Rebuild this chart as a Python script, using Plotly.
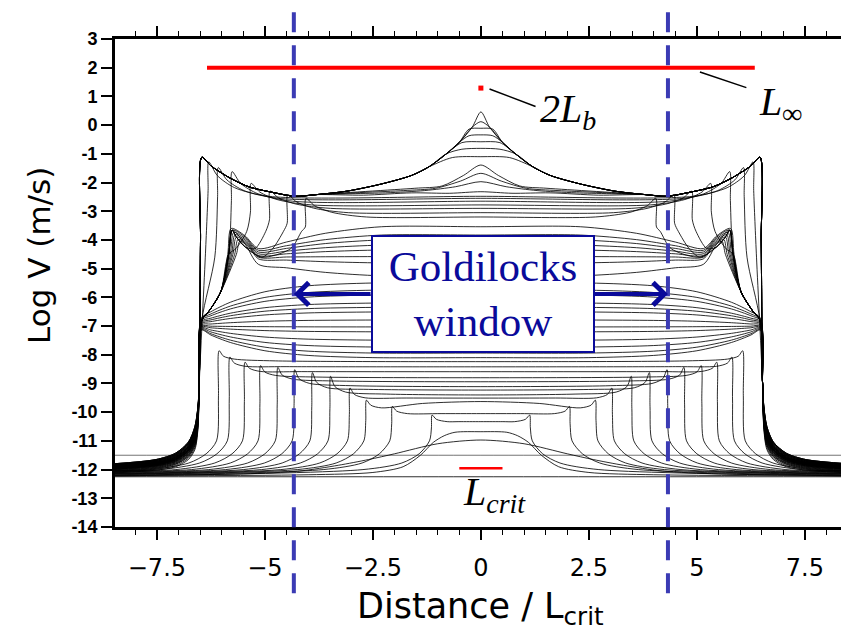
import plotly.graph_objects as go

# ---------------- axes ----------------
X_RANGE = [-8.47, 8.336]
Y_RANGE = [-14, 3]
X_TICKS = [-7.5, -5, -2.5, 0, 2.5, 5, 7.5]
X_TICKTEXT = ["\u22127.5", "\u22125", "\u22122.5", "0", "2.5", "5", "7.5"]
Y_TICKS = list(range(-14, 4))
Y_TICKTEXT = [str(v) for v in Y_TICKS]

# ---------------- length-scale markers ----------------
L_INF_HALF = 6.34
L_INF_LEVEL = 2.0
LB2_X, LB2_Y = 0.0, 1.29
LCRIT_HALF = 0.5
LCRIT_LEVEL = -11.95
WINDOW_EDGE = 4.33
WINDOW_LEVEL = -5.88

# ---------------- log slip-rate profiles (half profiles, mirrored about x=0) ----------------
# initial uniform states
INIT_FLAT = [-11.5, -12.25]
INIT_COLOR = ["rgba(0,0,0,0.55)", "rgba(0,0,0,0.82)"]

# nucleation bumps
NUC_BROAD_X = [0.0, 1.0, 2.0, 2.6, 3.3, 4.2, 5.5, 8.5]
NUC_BROAD_Y = [-10.97, -11.1, -11.45, -11.65, -11.85, -12.05, -12.15, -12.2]
NUC_HAT_X = [0.0, 0.6, 0.85, 1.1, 1.4, 1.8, 2.5, 4.0, 8.5]
NUC_HAT_Y = [-10.68, -10.7, -10.82, -11.05, -11.5, -11.9, -12.1, -12.18, -12.22]

# slowly expanding slip patch: front position, front peak, trough behind front, inner level, far level
EXP_FRONT = [1.13, 2.05, 2.65, 3.03, 3.48, 3.90, 4.31, 4.70, 5.10, 5.46, 5.81, 6.06]
EXP_PEAK = [-10.10, -9.80, -9.58, -9.16, -8.75, -8.62, -8.52, -8.44, -8.38, -8.26, -8.08, -7.86]
EXP_TROUGH = [-10.33, -10.05, -9.85, -9.50, -9.30, -9.15, -9.00, -8.85, -8.72, -8.58, -8.40, -8.15]
EXP_INNER = [-10.33, -10.05, -9.63, -9.51, -9.40, -9.23, -9.11, -8.94, -8.80, -8.59, -8.42, -8.24]
EXP_FAR = [-12.22, -12.2, -12.18, -12.16, -12.15, -12.14, -12.12, -12.1, -12.08, -12.06, -12.05, -12.03]
EXP_DROP_DX = [0.06, 0.3, 0.7, 1.6]
EXP_DROP_Y = [-11.0, -11.45, -11.77, -12.0]

# arrested patch, edges pinned near x = 6.5
PIN_INNER = [-5.5, -5.75, -5.92, -6.2, -6.35, -6.51, -6.79, -7.03, -7.2, -7.49, -7.73, -7.94, -8.1]
PIN_CORNER = [-6.72, -6.76, -6.8, -6.84, -6.88, -6.92, -6.96, -7.0, -7.03, -7.06, -7.09, -7.12, -7.14]
PIN_RAMP_X = [0.0, 2.5, 4.0, 5.0, 5.8, 6.25]
PIN_RAMP_W = [0.0, 0.0, 0.08, 0.25, 0.55, 0.82]
PIN_EDGE_X = 6.47

# ridge states: interior levels bend into a junction, then climb to a cusp near x = 5.7
RIDGE_INNER = [-3.54, -3.83, -4.0, -4.18, -4.35, -4.58, -4.8, -5.25]
RIDGE_JOIN = [-4.3, -4.36, -4.42, -4.48, -4.54, -4.6, -4.66, -4.85]
RIDGE_PEAK = [-3.6, -3.66, -3.74, -3.82, -3.9, -3.98, -4.05, -3.65]
RIDGE_CUSP_X = [5.78, 5.75, 5.72, 5.69, 5.66, 5.62, 5.58, 5.76]
RIDGE_APPROACH_X = [2.3, 3.6, 4.5]
RIDGE_APPROACH_W = [0.0, 0.3, 0.7]
RIDGE_JOIN_X = 5.15
RIDGE_OUTER_X = [6.02, 6.28, 6.46]
RIDGE_OUTER_Y = [-5.8, -6.45, -6.8]
RIDGE_PATH_X = [5.07, 5.45, 5.66, 5.76, 5.84, 6.02, 6.28, 6.46]
RIDGE_PATH_Y = [-4.6, -4.25, -3.9, -3.66, -4.5, -5.8, -6.45, -6.8]

# fast fronts running outward at high slip rate
FAST_FRONT = [4.05, 4.47, 4.88, 5.32, 5.76, 6.08, 6.30]
FAST_PEAK = [-2.55, -2.42, -2.30, -2.03, -1.62, -1.48, -1.28]
FAST_INNER = [-3.2, -3.05, -2.9, -2.78, -2.65, -2.55, -2.48]

# central cusp growing toward instability
CUSP_APEX = [0.46, 0.12, -0.11, -0.34, -0.58, -0.81, -1.1]
CUSP_ENV_X = [0.0, 0.2, 0.5, 0.8, 1.2, 1.6, 2.3, 3.1, 3.8, 4.3, 4.8, 5.37, 5.8, 6.0, 6.25, 6.46]
CUSP_ENV_Y = [0.46, -0.07, -0.6, -1.0, -1.45, -1.75, -2.05, -2.3, -2.42, -2.48, -2.35, -2.15, -1.85, -1.67, -1.42, -1.12]
# early, broader central bumps sitting on a lower shoulder
BUMP_APEX = [-1.39, -1.68, -1.97, -2.32]
BUMP_HALFWIDTH = [0.9, 1.05, 1.3, 1.6]
BUMP_BASE = [-2.2, -2.28, -2.36, -2.44]

# outer decay beyond a pinned edge: offsets and bounding levels of the bundle
TAIL_DX = [0.0, 0.03, 0.1, 0.25, 0.55, 1.0, 2.0]
TAIL_HI = [-9.0, -9.8, -10.5, -11.04, -11.43, -11.65, -11.8]
TAIL_LO = [-9.0, -10.6, -11.3, -11.65, -11.9, -12.02, -12.12]
TAIL_START = 6.52


def mirror(pts):
    xs = [p[0] for p in pts]
    ys = [p[1] for p in pts]
    return [-v for v in xs[::-1]] + xs[1:], ys[::-1] + ys[1:]


def tail(w):
    return [(TAIL_START + dx, hi + w * (lo - hi)) for dx, hi, lo in zip(TAIL_DX, TAIL_HI, TAIL_LO)]


def frac(i, n):
    return i / (n - 1) if n > 1 else 0.0


profiles = []   # (points, colour)
LINE = "rgba(0,0,0,0.82)"

for lvl, col in zip(INIT_FLAT, INIT_COLOR):
    profiles.append(([(0.0, lvl), (8.5, lvl)], col))
profiles.append((list(zip(NUC_BROAD_X, NUC_BROAD_Y)), LINE))
profiles.append((list(zip(NUC_HAT_X, NUC_HAT_Y)), LINE))

for f, p, t, c, far in zip(EXP_FRONT, EXP_PEAK, EXP_TROUGH, EXP_INNER, EXP_FAR):
    pts = [(0.0, c)]
    xm = max(f - 1.3, f * 0.45)
    pts.append((xm, c + 0.3 * (t - c)))
    pts += [(f - 0.35, t), (f - 0.1, t + 0.35 * (p - t)), (f, p), (f + 0.015, (p + EXP_DROP_Y[0]) / 2)]
    pts += [(f + dx, y) for dx, y in zip(EXP_DROP_DX, EXP_DROP_Y)]
    pts.append((8.5, far))
    profiles.append((pts, LINE))

n = len(PIN_INNER)
for i, (c, corner) in enumerate(zip(PIN_INNER, PIN_CORNER)):
    pts = [(x, c + w * (corner - c)) for x, w in zip(PIN_RAMP_X, PIN_RAMP_W)]
    pts.append((PIN_EDGE_X, corner))
    pts += tail(frac(i, n))
    profiles.append((pts, LINE))

n = len(RIDGE_INNER)
for i, (c, jn, pk, cx) in enumerate(zip(RIDGE_INNER, RIDGE_JOIN, RIDGE_PEAK, RIDGE_CUSP_X)):
    pts = [(0.0, c)] + [(x, c + w * (jn - c)) for x, w in zip(RIDGE_APPROACH_X, RIDGE_APPROACH_W)]
    pts += [(RIDGE_JOIN_X, jn), (0.5 * (RIDGE_JOIN_X + cx), 0.5 * (jn + pk) + 0.1), (cx, pk), (cx + 0.08, -4.5)]
    pts += list(zip(RIDGE_OUTER_X, RIDGE_OUTER_Y))
    pts += tail(frac(i, n) * 0.6)
    profiles.append((pts, LINE))

n = len(FAST_FRONT)
for i, (f, p, s) in enumerate(zip(FAST_FRONT, FAST_PEAK, FAST_INNER)):
    pts = [(0.0, s), (f - 1.4, s), (f - 0.6, s + 0.25 * (p - s)), (f - 0.2, s + 0.6 * (p - s)),
           (f, p), (f + 0.015, p - 1.0)]
    if f < 5.5:
        pts += [(f + 0.1, -3.7), (f + 0.35, -4.3)]
        pts += [(x, y) for x, y in zip(RIDGE_PATH_X, RIDGE_PATH_Y) if x > f + 0.5]
    else:
        pts += [(f + 0.08, -4.6)]
        pts += [(x, y) for x, y in zip(RIDGE_PATH_X, RIDGE_PATH_Y) if x > f + 0.2]
    pts += tail(0.3 + 0.5 * frac(i, n))
    profiles.append((pts, LINE))

EDGE_DROP = [(6.49, -4.0), (6.505, -7.5)]
n = len(CUSP_APEX) + len(BUMP_APEX)
for i, a in enumerate(CUSP_APEX):
    k = next(j for j in range(1, len(CUSP_ENV_Y)) if CUSP_ENV_Y[j] <= a - 0.15)
    pts = [(0.0, a)]
    if CUSP_ENV_X[k] > 0.3:
        pts.append((0.55 * CUSP_ENV_X[k], a - 0.03))
    pts += list(zip(CUSP_ENV_X[k:], CUSP_ENV_Y[k:]))
    pts += EDGE_DROP + tail(frac(i, n) * 0.5)
    profiles.append((pts, LINE))

for i, (a, hw, b) in enumerate(zip(BUMP_APEX, BUMP_HALFWIDTH, BUMP_BASE)):
    pts = [(0.0, a), (0.45 * hw, a + 0.45 * (b - a)), (hw, b + 0.08), (1.7 * hw, b)]
    pts += [(x, y) for x, y in zip(CUSP_ENV_X, CUSP_ENV_Y) if x >= max(3.8, 1.7 * hw + 0.6)]
    pts += EDGE_DROP + tail(frac(i + len(CUSP_APEX), n) * 0.5)
    profiles.append((pts, LINE))

fig = go.Figure()

for pts, col in profiles:
    X, Y = mirror(pts)
    fig.add_trace(go.Scatter(
        x=X, y=Y, mode="lines", hoverinfo="skip",
        line=dict(color=col, width=1, shape="spline", smoothing=0.8),
    ))

# length scales
fig.add_trace(go.Scatter(x=[-L_INF_HALF, L_INF_HALF], y=[L_INF_LEVEL, L_INF_LEVEL], mode="lines",
                         line=dict(color="#ff0000", width=4), hoverinfo="skip"))
fig.add_trace(go.Scatter(x=[LB2_X], y=[LB2_Y], mode="markers",
                         marker=dict(symbol="square", size=5, color="#ff0000"), hoverinfo="skip"))
fig.add_trace(go.Scatter(x=[-LCRIT_HALF, LCRIT_HALF], y=[LCRIT_LEVEL, LCRIT_LEVEL], mode="lines",
                         line=dict(color="#ff0000", width=2.5), hoverinfo="skip"))

# window limits
for sx in (-WINDOW_EDGE, WINDOW_EDGE):
    fig.add_shape(type="line", xref="x", yref="paper", x0=sx, x1=sx, y0=1.055, y1=-0.16,
                  line=dict(color="#3b3bb4", width=4, dash="20px,13px"), layer="above")

NAVY = "#0a0a9a"
for sx in (-1, 1):
    fig.add_annotation(x=sx * WINDOW_EDGE, y=WINDOW_LEVEL, ax=sx * 2.52, ay=WINDOW_LEVEL,
                       xref="x", yref="y", axref="x", ayref="y", text="", showarrow=True,
                       arrowhead=4, arrowsize=1.1, arrowwidth=4, arrowcolor=NAVY, standoff=0)
fig.add_annotation(x=0.05, y=WINDOW_LEVEL, xref="x", yref="y", text="Goldilocks<br>window",
                   showarrow=False, font=dict(family="Liberation Serif", size=43, color=NAVY),
                   bgcolor="white", bordercolor=NAVY, borderwidth=2, borderpad=0,
                   width=220, height=114)

SERIF = dict(family="Liberation Serif", size=40, color="black")
fig.add_annotation(x=LB2_X + 0.2, y=LB2_Y - 0.03, ax=1.3, ay=0.63, axref="x", ayref="y",
                   text="", showarrow=True, arrowhead=0, arrowwidth=1.5, arrowcolor="black")
fig.add_annotation(x=1.33, y=0.5, text="<i>2L<sub>b</sub></i>", showarrow=False,
                   xanchor="left", yanchor="middle", font=SERIF)
fig.add_annotation(x=5.07, y=L_INF_LEVEL - 0.15, ax=6.18, ay=1.29, axref="x", ayref="y",
                   text="", showarrow=True, arrowhead=0, arrowwidth=1.5, arrowcolor="black")
fig.add_annotation(x=6.4, y=0.75, text="<i>L<sub>\u221e</sub></i>", showarrow=False,
                   xanchor="left", yanchor="middle", font=SERIF)
fig.add_annotation(x=-0.46, y=-12.85, text="<i>L<sub>crit</sub></i>", showarrow=False,
                   xanchor="left", yanchor="middle", font=SERIF)

# axis titles
SANS = "DejaVu Sans"
fig.add_annotation(xref="paper", yref="paper", x=0.503, y=-0.166, text="Distance / L<sub>crit</sub>",
                   showarrow=False, xanchor="center", yanchor="middle",
                   font=dict(family=SANS, size=35, color="black"))
fig.add_annotation(xref="paper", yref="paper", x=-0.105, y=0.557, text="Log V (m/s)",
                   textangle=-90, showarrow=False, xanchor="center", yanchor="middle",
                   font=dict(family=SANS, size=31, color="black"))

fig.update_layout(
    width=841, height=635, margin=dict(l=115, r=0, t=39, b=108),
    plot_bgcolor="white", paper_bgcolor="white", showlegend=False,
    xaxis=dict(range=X_RANGE, tickvals=X_TICKS, ticktext=X_TICKTEXT, ticks="outside",
               ticklen=10, tickwidth=1.5, tickcolor="black", showline=True, linewidth=3,
               linecolor="black", mirror="ticks", showgrid=False, zeroline=False,
               ticklabelstandoff=7,
               minor=dict(dtick=0.5, tick0=0, ticks="outside", ticklen=5, tickwidth=1.2,
                          tickcolor="black"),
               tickfont=dict(family=SANS, size=24, color="black")),
    yaxis=dict(range=Y_RANGE, tickvals=Y_TICKS, ticktext=Y_TICKTEXT, ticks="outside",
               ticklen=11, tickwidth=2, tickcolor="black", showline=True, linewidth=3,
               linecolor="black", mirror=False, showgrid=False, zeroline=False,
               tickfont=dict(family="Liberation Sans", size=18, color="black", weight="bold")),
)

fig.write_html("out.html")
